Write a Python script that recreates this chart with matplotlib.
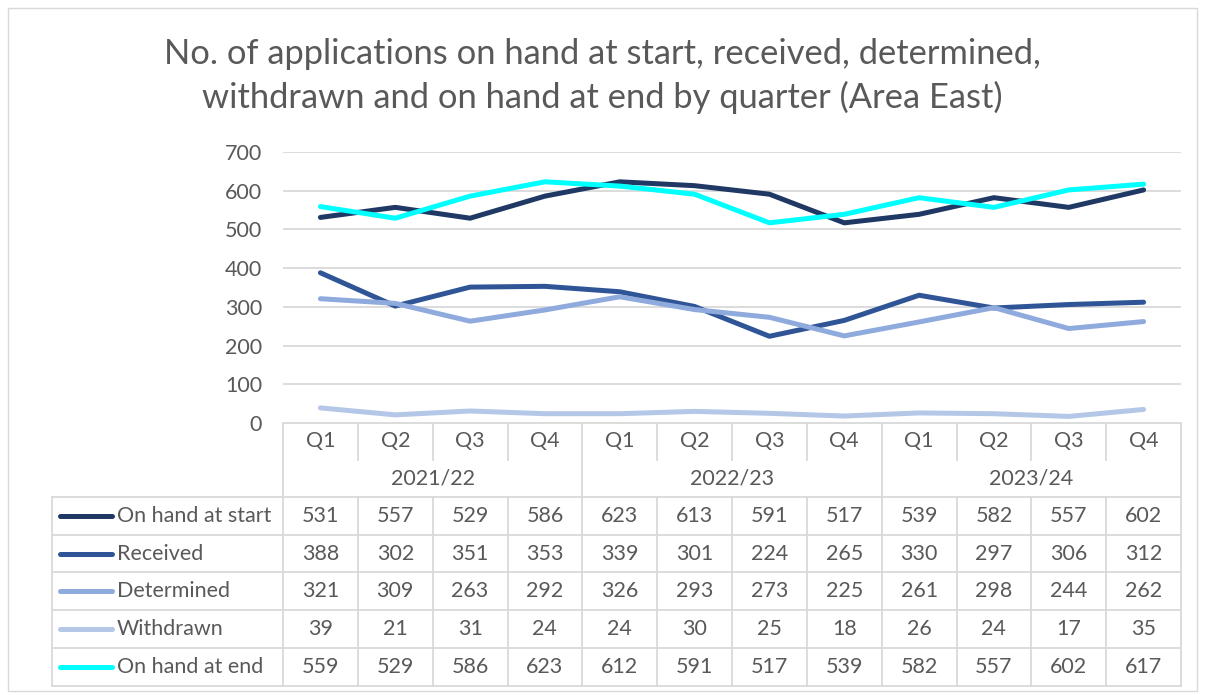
import matplotlib.pyplot as plt
from matplotlib.lines import Line2D
from matplotlib.patches import Rectangle

quarters = ["Q1", "Q2", "Q3", "Q4"] * 3
years = ["2021/22", "2022/23", "2023/24"]
series_names = ["On hand at start", "Received", "Determined", "Withdrawn", "On hand at end"]
on_hand_start = [531, 557, 529, 586, 623, 613, 591, 517, 539, 582, 557, 602]
received = [388, 302, 351, 353, 339, 301, 224, 265, 330, 297, 306, 312]
determined = [321, 309, 263, 292, 326, 293, 273, 225, 261, 298, 244, 262]
withdrawn = [39, 21, 31, 24, 24, 30, 25, 18, 26, 24, 17, 35]
on_hand_end = [559, 529, 586, 623, 612, 591, 517, 539, 582, 557, 602, 617]
series = [on_hand_start, received, determined, withdrawn, on_hand_end]
colors = ["#1F3864", "#2F5597", "#8FAADC", "#B4C7E7", "#00FFFF"]

plt.rcParams['font.family'] = ['Lato', 'DejaVu Sans']
txt = "#595959"
grid = "#D9D9D9"
fs = 15.5

W, H = 1205, 695
fig = plt.figure(figsize=(W / 100, H / 100), dpi=100)

# pixel helpers
L, R, TOP, BOT = 283, 1181, 152, 423
ax = fig.add_axes([L / W, 1 - BOT / H, (R - L) / W, (BOT - TOP) / H])
x = list(range(len(quarters)))
for vals, c in zip(series, colors):
    ax.plot(x, vals, color=c, lw=3.6, solid_capstyle='round', solid_joinstyle='round', zorder=3)
ax.set_xlim(-0.5, 11.5)
ax.set_ylim(0, 700)
ax.set_yticks(range(0, 701, 100))
ax.set_xticks([])
ax.grid(axis='y', color=grid, lw=1.3)
ax.set_axisbelow(True)
for s in ax.spines.values():
    s.set_visible(False)
ax.tick_params(axis='y', length=0, labelsize=fs, labelcolor=txt, pad=15)

# overlay for table and frame, in pixel coordinates
t = fig.add_axes([0, 0, 1, 1], zorder=-1)
t.set_xlim(0, W)
t.set_ylim(H, 0)
t.axis('off')
t.add_patch(Rectangle((8, 8), W - 16, H - 12, fill=False, ec=grid, lw=1))

fig.suptitle("No. of applications on hand at start, received, determined,\nwithdrawn and on hand at end by quarter (Area East)",
             y=1 - 76 / H, va='center', fontsize=24.8, color=txt, linespacing=1.38)

colw = (R - L) / 12
rows = [423, 460, 497, 535, 572, 610, 648, 686]
LEFT = 52


def hl(y, x0, x1):
    t.plot([x0, x1], [y, y], color=grid, lw=1.3)


def vl(xx, y0, y1):
    t.plot([xx, xx], [y0, y1], color=grid, lw=1.3)


hl(rows[0], L, R)
for y in rows[2:]:
    hl(y, LEFT, R)
vl(LEFT, rows[2], rows[-1])
for i in range(13):
    xx = L + i * colw
    if i % 4 == 0:
        vl(xx, rows[0], rows[-1])
    else:
        vl(xx, rows[0], rows[1])
        vl(xx, rows[2], rows[-1])

for i, q in enumerate(quarters):
    t.text(L + (i + 0.5) * colw, (rows[0] + rows[1]) / 2, q, ha='center', va='center', fontsize=fs, color=txt)
for j, yr in enumerate(years):
    t.text(L + (4 * j + 2) * colw, (rows[1] + rows[2]) / 2, yr, ha='center', va='center', fontsize=fs, color=txt)

for r, (name, vals, c) in enumerate(zip(series_names, series, colors)):
    yc = (rows[2 + r] + rows[3 + r]) / 2
    t.add_line(Line2D([60, 112], [yc, yc], color=c, lw=3.6, solid_capstyle='round'))
    t.text(117, yc, name, ha='left', va='center', fontsize=fs, color=txt)
    for i, v in enumerate(vals):
        t.text(L + (i + 0.5) * colw, yc, str(v), ha='center', va='center', fontsize=fs, color=txt)

fig.savefig("out.png", dpi=100)
